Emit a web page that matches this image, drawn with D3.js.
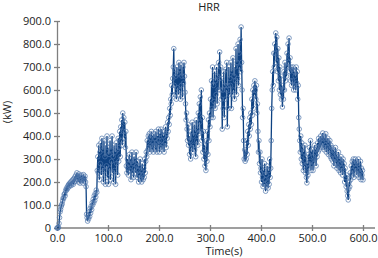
<!DOCTYPE html>
<html>
<head>
<meta charset="utf-8">
<script src="https://cdn.jsdelivr.net/npm/d3@7"></script>
<style>
  body { margin: 0; background: #fff; }
  svg { display: block; font-family: "Open Sans", sans-serif; }
</style>
</head>
<body>
<svg id="chart"></svg>
<script>
// HRR samples, one per second from 0 to 600 s (one row = 10 s)
const timeStep = 1;
const hrr = [
  0, 1, 0, 3, 20, 45, 70, 80, 92, 100,
  105, 118, 130, 128, 145, 150, 140, 162, 170, 165,
  178, 172, 185, 190, 180, 195, 188, 200, 185, 205,
  195, 210, 190, 215, 200, 222, 205, 230, 212, 240,
  210, 228, 200, 235, 215, 195, 225, 205, 230, 210,
  220, 195, 232, 205, 215, 225, 200, 180, 60, 45,
  30, 55, 40, 70, 50, 85, 65, 95, 80, 110,
  100, 125, 110, 140, 120, 150, 135, 165, 155, 250,
  310, 240, 360, 210, 330, 280, 370, 230, 390, 260,
  340, 200, 380, 250, 310, 190, 360, 270, 400, 220,
  350, 190, 320, 260, 380, 210, 340, 290, 400, 240,
  310, 200, 360, 250, 330, 190, 370, 280, 340, 230,
  390, 290, 350, 420, 310, 440, 380, 470, 360, 500,
  420, 480, 390, 460, 350, 420, 270, 240, 300, 260,
  230, 280, 320, 250, 300, 210, 290, 330, 240, 280,
  220, 310, 260, 300, 240, 330, 270, 220, 290, 250,
  200, 270, 230, 300, 210, 250, 200, 280, 230, 210,
  260, 220, 300, 240, 290, 330, 310, 380, 340, 400,
  350, 410, 330, 390, 360, 420, 340, 400, 370, 330,
  410, 360, 390, 340, 420, 370, 330, 400, 360, 430,
  380, 330, 410, 350, 430, 380, 340, 420, 360, 400,
  330, 420, 370, 440, 350, 410, 390, 460, 420, 480,
  450, 520, 490, 560, 540, 620, 580, 650, 700, 780,
  620, 690, 580, 660, 560, 700, 610, 670, 580, 720,
  600, 690, 560, 710, 620, 660, 570, 700, 630, 720,
  660, 590, 540, 470, 500, 430, 380, 450, 360, 400,
  320, 380, 300, 420, 350, 460, 330, 400, 360, 450,
  340, 420, 310, 470, 380, 430, 360, 500, 410, 540,
  460, 570, 420, 600, 380, 480, 330, 420, 300, 360,
  270, 330, 250, 380, 290, 420, 320, 470, 380, 500,
  440, 560, 480, 640, 520, 700, 480, 620, 550, 680,
  520, 640, 580, 700, 540, 660, 600, 720, 650, 765,
  600, 700, 560, 650, 430, 600, 520, 680, 480, 620,
  560, 690, 600, 720, 440, 620, 520, 700, 580, 650,
  620, 720, 520, 680, 580, 740, 600, 660, 560, 700,
  640, 780, 580, 720, 650, 800, 620, 760, 700, 820,
  680, 874, 720, 600, 480, 520, 380, 300, 340, 290,
  330, 300, 380, 320, 420, 360, 450, 400, 480, 430,
  500, 450, 560, 490, 600, 520, 620, 580, 640, 600,
  560, 620, 500, 540, 420, 330, 380, 280, 330, 240,
  260, 200, 300, 220, 180, 250, 190, 280, 210, 160,
  230, 180, 270, 200, 174, 250, 190, 300, 220, 260,
  380, 520, 600, 680, 620, 760, 700, 800, 760, 848,
  720, 830, 680, 780, 640, 740, 600, 700, 580, 660,
  560, 620, 526, 600, 560, 680, 600, 720, 640, 700,
  660, 760, 700, 800, 720, 826, 680, 740, 640, 700,
  620, 690, 640, 700, 600, 680, 620, 660, 600, 700,
  630, 680, 560, 620, 480, 430, 380, 330, 400, 300,
  370, 280, 350, 250, 330, 270, 360, 240, 310, 220,
  196, 280, 230, 320, 260, 350, 290, 380, 250, 330,
  270, 340, 250, 310, 280, 360, 300, 340, 270, 350,
  310, 370, 330, 390, 340, 380, 350, 400, 360, 390,
  370, 413, 350, 400, 340, 390, 360, 410, 330, 380,
  350, 390, 320, 370, 340, 380, 310, 360, 300, 350,
  320, 290, 340, 270, 330, 300, 350, 280, 320, 260,
  310, 270, 330, 250, 300, 280, 240, 310, 260, 290,
  230, 300, 250, 280, 200, 260, 220, 180, 230, 160,
  140, 122, 170, 200, 180, 240, 210, 270, 230, 290,
  250, 300, 220, 280, 240, 300, 260, 290, 230, 280,
  250, 300, 220, 270, 240, 290, 210, 260, 230, 250,
  209
];
const xTicks = [0, 100, 200, 300, 400, 500, 600];
const yTicks = [0, 100, 200, 300, 400, 500, 600, 700, 800, 900];

const width = 378, height = 258;
const margin = { top: 21, right: 15, bottom: 30, left: 57 };

const data = hrr.map((v, i) => ({ t: i * timeStep, v: v }));

const svg = d3.select("#chart")
  .attr("width", width)
  .attr("height", height);

const x = d3.scaleLinear()
  .domain([0, 600])
  .range([margin.left, 363]);

const y = d3.scaleLinear()
  .domain([0, 900])
  .range([228, margin.top]);

const axisColor = "#7f7f7f";

// x axis, ticks cross the line
const gx = svg.append("g")
  .attr("transform", `translate(0,${y(0)})`)
  .call(d3.axisBottom(x).tickValues(xTicks).tickSize(3).tickSizeOuter(0).tickFormat(d => d.toFixed(1)));
gx.select(".domain").attr("d", `M${margin.left},0H375`);
gx.selectAll(".tick line").attr("y1", -3).attr("y2", 3);
gx.selectAll(".tick text").attr("y", 6).attr("dy", "0.71em");

// y axis
const gy = svg.append("g")
  .attr("transform", `translate(${x(0)},0)`)
  .call(d3.axisLeft(y).tickValues(yTicks).tickSize(3).tickSizeOuter(0)
    .tickFormat(d => d === 0 ? "0" : d.toFixed(1)));
gy.selectAll(".tick line").attr("x1", 3).attr("x2", -3);
gy.selectAll(".tick text").attr("x", -6);

svg.selectAll(".domain, .tick line").attr("stroke", axisColor).attr("stroke-width", 1.3);
svg.selectAll(".tick text").attr("fill", "#222").style("font-size", "11px").style("font-family", "'Open Sans', sans-serif");

// line
const line = d3.line()
  .x(d => x(d.t))
  .y(d => y(d.v));

svg.append("path")
  .datum(data)
  .attr("fill", "none")
  .attr("stroke", "#0e4282")
  .attr("stroke-width", 1.3)
  .attr("d", line);

// markers
svg.append("g")
  .selectAll("circle")
  .data(data)
  .join("circle")
  .attr("cx", d => x(d.t))
  .attr("cy", d => y(d.v))
  .attr("r", 2.3)
  .attr("fill", "none")
  .attr("stroke", "#4f76aa")
  .attr("stroke-width", 0.7);

// title and labels
svg.append("text")
  .attr("x", 209)
  .attr("y", 11)
  .attr("text-anchor", "middle")
  .attr("fill", "#222")
  .style("font-size", "11px")
  .text("HRR");

svg.append("text")
  .attr("x", 224)
  .attr("y", 255)
  .attr("text-anchor", "middle")
  .attr("fill", "#222")
  .style("font-size", "11px")
  .text("Time(s)");

svg.append("text")
  .attr("transform", "translate(11,112) rotate(-90)")
  .attr("text-anchor", "middle")
  .attr("fill", "#222")
  .style("font-size", "11px")
  .text("(kW)");
</script>
</body>
</html>
